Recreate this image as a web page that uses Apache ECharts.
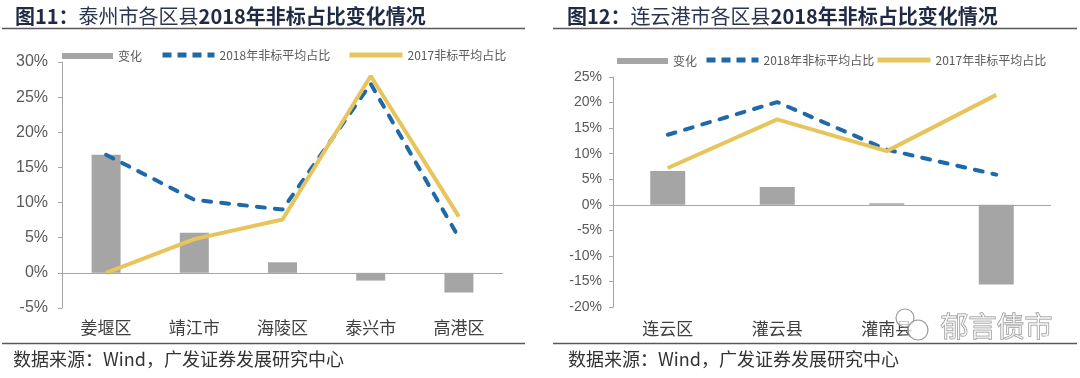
<!DOCTYPE html>
<html>
<head>
<meta charset="utf-8">
<script src="https://cdn.jsdelivr.net/npm/echarts@6/dist/echarts.min.js"></script>
<style>
html,body{margin:0;padding:0;background:#fff;}
#c{width:1080px;height:378px;}
</style>
</head>
<body>
<div id="c"></div>
<script>
// ---- Data ----
var tzCategories = ['姜堰区', '靖江市', '海陵区', '泰兴市', '高港区'];
var tzChange = [16.8, 5.7, 1.5, -1.1, -2.8];
var tz2018 = [16.8, 10.4, 9.0, 26.9, 5.0];
var tz2017 = [0.0, 4.8, 7.6, 28.0, 8.0];

var lygCategories = ['连云区', '灌云县', '灌南县', ''];
var lygChange = [6.6, 3.5, 0.3, -15.6];
var lyg2018 = [13.7, 20.1, 10.8, 5.9];
var lyg2017 = [7.2, 16.7, 10.5, 21.5];

var seriesNames = ['变化', '2018年非标平均占比', '2017非标平均占比', '2017年非标平均占比'];
var titleLeft = ['图11：', '泰州市各区县', '2018年非标占比变化情况'];
var titleRight = ['图12：', '连云港市各区县', '2018年非标占比变化情况'];
var sourceText = '数据来源：Wind，广发证券发展研究中心';
var watermarkText = '郁言债市';

// ---- Style ----
var GRAY = '#A5A5A5', BLUE = '#1F69A8', GOLD = '#E8C55C';
var AXIS = '#A6A6A6', LABEL = '#595959';
var chart = echarts.init(document.getElementById('c'), null, {renderer: 'canvas'});

function titleGraphic(x, parts) {
  return {
    type: 'text', left: x, top: 6,
    style: {
      text: '{b|' + parts[0] + '}{n|' + parts[1] + '}{b|' + parts[2] + '}',
      rich: {
        b: {fontSize: 20, fontWeight: 'bold', fill: '#1F2A44', fontFamily: 'Noto Sans CJK SC'},
        n: {fontSize: 20, fontWeight: 'normal', fill: '#2A3550', fontFamily: 'Noto Sans CJK SC'}
      }
    }
  };
}
function hline(x1, x2, y) {
  return {type: 'line', shape: {x1: x1, y1: y, x2: x2, y2: y}, style: {stroke: '#595959', lineWidth: 1.5}};
}
function legendItem(name, left, top, w, h, icon, lineStyle) {
  var l = {
    data: [name], left: left, top: top, itemWidth: w, itemHeight: h, itemGap: 0,
    selectedMode: false, padding: 0,
    textStyle: {fontSize: 12, color: LABEL, fontFamily: 'Noto Sans CJK SC'}
  };
  if (icon) l.icon = icon;
  if (lineStyle) {
    l.lineStyle = lineStyle;
    l.itemStyle = {opacity: 0, color: 'rgba(0,0,0,0)', borderWidth: 0};
  }
  return l;
}
function yAxisCfg(grid, min, max, size, margin) {
  return {
    type: 'value', gridIndex: grid, min: min, max: max, interval: 5,
    axisLine: {show: true, lineStyle: {color: AXIS, width: 1}},
    axisTick: {show: true, length: 4, lineStyle: {color: AXIS}},
    splitLine: {show: false},
    axisLabel: {formatter: '{value}%', fontSize: size, color: LABEL, margin: margin, fontFamily: 'Liberation Sans'}
  };
}
function xAxisCfg(grid, cats, margin) {
  return {
    type: 'category', gridIndex: grid, data: cats,
    axisLine: {show: false}, axisTick: {show: false},
    axisLabel: {fontSize: 17, color: '#404040', margin: margin, fontFamily: 'Noto Sans CJK SC', interval: 0}
  };
}
function barSeries(idx, data, w) {
  return {
    name: seriesNames[0], type: 'bar', xAxisIndex: idx, yAxisIndex: idx, data: data,
    barWidth: w, itemStyle: {color: GRAY},
    markLine: {silent: true, symbol: 'none', label: {show: false},
      lineStyle: {color: AXIS, width: 1, type: 'solid'}, data: [{yAxis: 0}]}
  };
}
function lineSeries(idx, name, data, color, dashed) {
  return {
    name: name, type: 'line', xAxisIndex: idx, yAxisIndex: idx, data: data,
    symbol: 'none', z: 3,
    lineStyle: {color: color, width: 4, type: dashed ? [8, 10] : 'solid', cap: dashed ? 'round' : 'butt'},
    itemStyle: {color: color}
  };
}
var dashLegend = {color: BLUE, width: 5, type: [9, 6], cap: 'butt'};
var solidLegend = {color: GOLD, width: 5, type: 'solid'};

var option = {
  animation: false,
  backgroundColor: '#ffffff',
  grid: [
    {left: 62, top: 62, width: 441, height: 246},
    {left: 613, top: 77, width: 438, height: 230}
  ],
  xAxis: [xAxisCfg(0, tzCategories, 11), xAxisCfg(1, lygCategories, 13)],
  yAxis: [yAxisCfg(0, -5, 30, 16, 14), yAxisCfg(1, -20, 25, 14, 11)],
  legend: [
    legendItem(seriesNames[0], 62, 50, 51, 6, 'rect'),
    legendItem(seriesNames[1], 160, 49, 52, 8, null, dashLegend),
    legendItem(seriesNames[2], 347, 49, 53, 8, null, solidLegend),
    legendItem(seriesNames[0], 617, 55, 51, 6, 'rect'),
    legendItem(seriesNames[1], 704, 54, 52, 8, null, dashLegend),
    legendItem(seriesNames[3], 875, 54, 53, 8, null, solidLegend)
  ],
  series: [
    barSeries(0, tzChange, 29),
    lineSeries(0, seriesNames[1], tz2018, BLUE, true),
    lineSeries(0, seriesNames[2], tz2017, GOLD, false),
    barSeries(1, lygChange, 35),
    lineSeries(1, seriesNames[1], lyg2018, BLUE, true),
    lineSeries(1, seriesNames[3], lyg2017, GOLD, false)
  ],
  graphic: [
    titleGraphic(15, titleLeft),
    titleGraphic(567, titleRight),
    hline(2, 525, 28.5), hline(553, 1077, 28.5),
    hline(2, 525, 343.5), hline(553, 1077, 343.5),
    {type: 'text', left: 13, top: 350, style: {text: sourceText, fontSize: 18, fill: '#333', fontFamily: 'Noto Sans CJK SC'}},
    {type: 'text', left: 568, top: 350, style: {text: sourceText, fontSize: 18, fill: '#333', fontFamily: 'Noto Sans CJK SC'}},
    {type: 'circle', shape: {cx: 905, cy: 318, r: 9}, style: {fill: 'rgba(255,255,255,0.7)', stroke: '#9a9a9a', lineWidth: 1.2}, z: 100},
    {type: 'circle', shape: {cx: 918, cy: 330, r: 10}, style: {fill: 'rgba(255,255,255,0.7)', stroke: '#9a9a9a', lineWidth: 1.2}, z: 100},
    {type: 'text', left: 940, top: 312, z: 100, style: {text: watermarkText, fontSize: 28, fill: 'rgba(255,255,255,0.6)', stroke: '#8a8a8a', lineWidth: 1, fontFamily: 'Noto Sans CJK SC'}}
  ]
};
chart.setOption(option);
</script>
</body>
</html>
